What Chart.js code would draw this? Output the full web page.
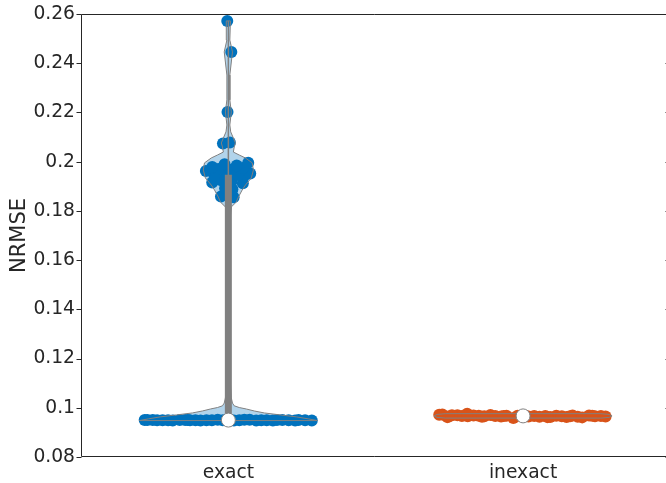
<!DOCTYPE html>
<html>
<head>
<meta charset="utf-8">
<script src="https://cdn.jsdelivr.net/npm/chart.js@4/dist/chart.umd.min.js"></script>
<style>
  html, body { margin: 0; padding: 0; background: #fff; overflow: hidden; }
  canvas { display: block; }
</style>
</head>
<body>
<canvas id="chart" width="666" height="483"></canvas>
<script>
// ---- data ----
const categories = ['exact', 'inexact'];
const categoryPositions = [1, 2];
const xLimits = [0.5, 2.5];
const yTickValues = [0.08, 0.10, 0.12, 0.14, 0.16, 0.18, 0.20, 0.22, 0.24, 0.26];
const yTickLabels = ['0.08', '0.1', '0.12', '0.14', '0.16', '0.18', '0.2', '0.22', '0.24', '0.26'];

// NRMSE of each run, exact solver
const exactNrmse = [
  0.0949, 0.0950, 0.0948, 0.0949, 0.0951, 0.0949, 0.0948, 0.0950, 0.0949, 0.0949,
  0.0950, 0.0948, 0.0949, 0.0951, 0.0949, 0.0950, 0.0948, 0.0949, 0.0950, 0.0949,
  0.0948, 0.0949, 0.0950, 0.0949, 0.0951, 0.0948, 0.0949, 0.0950, 0.0949, 0.0949,
  0.0948, 0.0950, 0.0949, 0.0950,
  0.1855, 0.1858, 0.1888, 0.1892, 0.1912, 0.1915, 0.1920, 0.1924,
  0.1940, 0.1944, 0.1946, 0.1948, 0.1952,
  0.1962, 0.1966, 0.1970, 0.1974, 0.1978,
  0.1984, 0.1990, 0.1996,
  0.2074, 0.2078, 0.2202, 0.2446, 0.2572
];

// NRMSE of each run, inexact solver
const inexactNrmse = [
  0.0966, 0.0968, 0.0963, 0.0970, 0.0967, 0.0965, 0.0969, 0.0962, 0.0967, 0.0971,
  0.0964, 0.0966, 0.0968, 0.0958, 0.0967, 0.0973, 0.0965, 0.0966, 0.0969, 0.0967,
  0.0963, 0.0968, 0.0966, 0.0970, 0.0964, 0.0967, 0.0961, 0.0969, 0.0966, 0.0968,
  0.0965, 0.0972, 0.0967, 0.0964, 0.0966, 0.0976, 0.0962, 0.0967, 0.0968, 0.0965
];

// violin outline: NRMSE level and density half-width (x-axis units)
const exactViolinLevels = [
  0.0948, 0.0955, 0.0963, 0.0971, 0.0979, 0.0987, 0.0995, 0.1001, 0.1008, 0.1019,
  0.1040, 0.1100, 0.1300, 0.1600, 0.1780, 0.1816, 0.1836, 0.1856, 0.1885, 0.1905,
  0.1934, 0.1966, 0.1995, 0.2015, 0.2027, 0.2039, 0.2060, 0.2076, 0.2096, 0.2121,
  0.2149, 0.2202, 0.2251, 0.2352, 0.2446, 0.2494, 0.2572
];
const exactViolinWidths = [
  0.302, 0.271, 0.231, 0.176, 0.122, 0.088, 0.061, 0.037, 0.020, 0.014,
  0.010, 0.007, 0.005, 0.005, 0.007, 0.010, 0.027, 0.034, 0.047, 0.058,
  0.078, 0.085, 0.081, 0.058, 0.037, 0.017, 0.020, 0.024, 0.017, 0.008,
  0.005, 0.010, 0.005, 0.005, 0.014, 0.005, 0.007
];
const inexactViolinLevels = [0.0958, 0.0961, 0.0967, 0.0973, 0.0976];
const inexactViolinWidths = [0.264, 0.292, 0.302, 0.292, 0.264];

// ---- helpers ----
const FONT = "'DejaVu Sans', sans-serif";
const TEXT = '#262626';
const GRAY = '#808080';

function quantile(sorted, p) {
  const n = sorted.length;
  const pos = n * p + 0.5;
  if (pos <= 1) return sorted[0];
  if (pos >= n) return sorted[n - 1];
  const lo = Math.floor(pos);
  return sorted[lo - 1] + (pos - lo) * (sorted[lo] - sorted[lo - 1]);
}

function widthAt(levels, widths, v) {
  if (v <= levels[0]) return widths[0];
  for (let i = 1; i < levels.length; i++) {
    if (v <= levels[i]) {
      const t = (v - levels[i - 1]) / (levels[i] - levels[i - 1]);
      return widths[i - 1] + t * (widths[i] - widths[i - 1]);
    }
  }
  return widths[widths.length - 1];
}

// evenly spread factor in (-1, 1) for the swarm
function spread(k) {
  let r = 0, f = 0.5;
  while (k > 0) { r += f * (k & 1); k >>= 1; f /= 2; }
  return 2 * r - 1;
}

function violinDatasets(pos, values, levels, widths, color, fillColor) {
  const sorted = values.slice().sort((a, b) => a - b);
  const q1 = quantile(sorted, 0.25);
  const med = quantile(sorted, 0.5);
  const q3 = quantile(sorted, 0.75);

  const outline = [];
  for (let i = 0; i < levels.length; i++) outline.push({ x: pos - widths[i], y: levels[i] });
  for (let i = levels.length - 1; i >= 0; i--) outline.push({ x: pos + widths[i], y: levels[i] });
  outline.push({ x: pos - widths[0], y: levels[0] });

  const points = values.map((v, i) => ({ x: pos + spread(i + 1) * widthAt(levels, widths, v), y: v }));

  return [
    { data: outline, showLine: true, fill: 'shape', backgroundColor: fillColor,
      borderWidth: 0, borderColor: 'rgba(0,0,0,0)', pointRadius: 0, tension: 0, order: 60 },
    { data: points, showLine: false, pointRadius: 6, pointHoverRadius: 6,
      pointBackgroundColor: color, pointBorderWidth: 0, backgroundColor: color, order: 50 },
    { data: outline, showLine: true, fill: false, borderColor: GRAY, borderWidth: 1,
      pointRadius: 0, tension: 0, order: 40 },
    { data: [{ x: pos, y: sorted[0] }, { x: pos, y: sorted[sorted.length - 1] }],
      showLine: true, fill: false, borderColor: GRAY, borderWidth: 1.5, pointRadius: 0, order: 30 },
    { data: [{ x: pos, y: q1 }, { x: pos, y: q3 }], showLine: true, fill: false,
      borderColor: GRAY, borderWidth: 7, borderCapStyle: 'butt', pointRadius: 0, order: 20 },
    { data: [{ x: pos, y: med }], showLine: false, pointRadius: 7, pointHoverRadius: 7,
      pointBackgroundColor: '#ffffff', pointBorderColor: GRAY, pointBorderWidth: 1, order: 10 }
  ];
}

// axes box with tick marks; the box's right side lies at x = 2.5, just past the canvas edge
const axesBox = {
  id: 'axesBox',
  afterDraw(chart) {
    const { ctx, chartArea: a, scales } = chart;
    const L = Math.floor(a.left) + 0.5;
    const R = Math.floor(scales.x.getPixelForValue(xLimits[1])) + 0.5;
    const T = Math.floor(a.top) + 0.5, B = Math.round(a.bottom) - 0.5;
    ctx.save();
    ctx.strokeStyle = TEXT;
    ctx.lineWidth = 1;
    ctx.beginPath();
    ctx.rect(L, T, R - L, B - T);
    yTickValues.forEach(v => {
      const y = Math.round(scales.y.getPixelForValue(v)) + 0.5;
      ctx.moveTo(L - 5, y); ctx.lineTo(L, y);
      ctx.moveTo(R - 5, y); ctx.lineTo(R, y);
    });
    ctx.stroke();
    ctx.restore();
  }
};

const datasets = [
  ...violinDatasets(categoryPositions[0], exactNrmse, exactViolinLevels, exactViolinWidths,
    '#0072BD', 'rgba(0,114,189,0.3)'),
  ...violinDatasets(categoryPositions[1], inexactNrmse, inexactViolinLevels, inexactViolinWidths,
    '#D95319', 'rgba(217,83,25,0.3)')
];

new Chart(document.getElementById('chart'), {
  type: 'scatter',
  data: { datasets },
  plugins: [axesBox],
  options: {
    responsive: false,
    devicePixelRatio: 1,
    animation: false,
    events: [],
    layout: { autoPadding: false, padding: { top: 14, right: 0, left: 0, bottom: 0 } },
    plugins: { legend: { display: false }, tooltip: { enabled: false } },
    scales: {
      x: {
        type: 'linear', min: xLimits[0], max: 2.485,
        afterBuildTicks: s => { s.ticks = categoryPositions.map(v => ({ value: v })); },
        afterFit: s => { s.height = 26; s.paddingLeft = 0; s.paddingRight = 0; },
        grid: { display: false, drawTicks: false },
        border: { display: false },
        ticks: {
          callback: (v, i) => categories[i],
          color: TEXT, font: { family: FONT, size: 18.7 }, padding: 5,
          maxRotation: 0, autoSkip: false
        }
      },
      y: {
        type: 'linear', min: 0.08, max: 0.26,
        afterBuildTicks: s => { s.ticks = yTickValues.map(v => ({ value: v })); },
        afterFit: s => { s.width = 81; s.paddingTop = 0; s.paddingBottom = 0; },
        grid: { display: false, drawTicks: false },
        border: { display: false },
        ticks: {
          callback: (v, i) => yTickLabels[i],
          color: TEXT, font: { family: FONT, size: 18.7 }, padding: 6, autoSkip: false
        },
        title: {
          display: true, text: 'NRMSE', color: TEXT,
          font: { family: FONT, size: 21 }, padding: { top: 7, bottom: 0 }
        }
      }
    }
  }
});
</script>
</body>
</html>
